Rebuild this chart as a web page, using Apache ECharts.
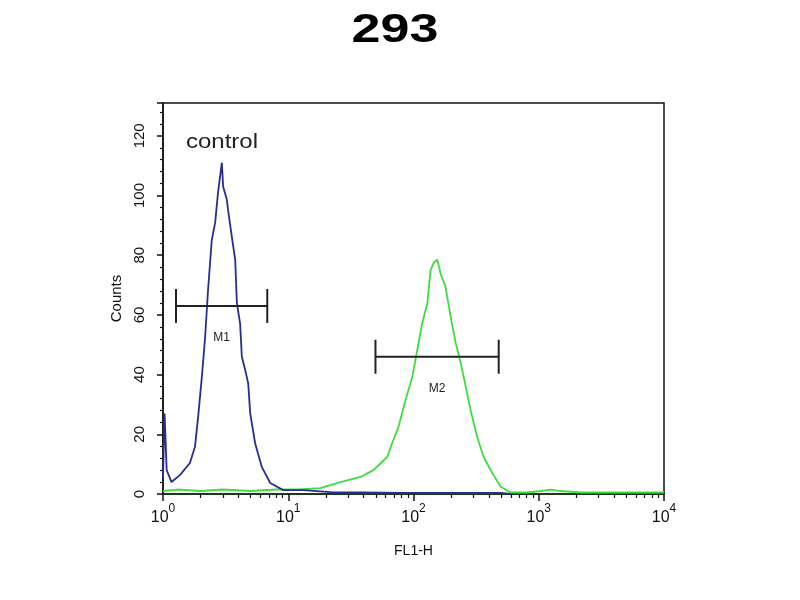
<!DOCTYPE html>
<html><head><meta charset="utf-8">
<script src="https://cdn.jsdelivr.net/npm/echarts@6/dist/echarts.min.js"></script>
<style>html,body{margin:0;padding:0;background:#fff}#c{width:800px;height:600px}</style>
</head><body><div id="c"></div>
<script>
// ---- data ----
const chartTitle = '293';
const xDecades = [1, 10, 100, 1000, 10000];
const yTicks = [0, 20, 40, 60, 80, 100, 120];

const controlX = [1.0, 1.03, 1.07, 1.17, 1.37, 1.64, 1.80, 1.91, 2.04, 2.17, 2.29, 2.45, 2.61, 2.75, 2.95, 3.02, 3.23, 3.31, 3.55, 3.77, 3.89, 4.13, 4.26, 4.53, 4.79, 4.97, 5.44, 6.16, 7.18, 9.12, 9.82, 13.2, 21.7, 40, 78.7, 200, 497, 597];
const controlY = [5, 27, 8, 4, 6.4, 10.4, 15.8, 26, 39, 52.7, 68.5, 85, 91, 101, 111, 103, 98.7, 95, 86, 78.5, 64, 57, 46, 41.6, 37, 27, 17, 9, 3.7, 1.3, 1.3, 1.3, 0.6, 0.5, 0.4, 0.4, 0.4, 0];

const sampleX = [1, 1.3, 2, 3, 5, 8, 12, 18, 26.1, 37.7, 47.9, 61.6, 67.5, 75.9, 86.3, 97.6, 107, 117, 129, 137, 145, 155, 164, 180, 198, 217, 238, 261, 286, 323, 363, 426, 497, 597, 800, 1037, 1250, 1500, 2168, 4000, 10000];
const sampleY = [1, 1.5, 1, 1.5, 1, 1.5, 1.5, 2, 4, 5.7, 8, 12.4, 17, 22.5, 31.5, 39, 48, 57, 64, 75, 77.5, 78.5, 74, 69.5, 59.4, 50.7, 44, 36, 28, 19, 12.4, 7, 2.4, 0.5, 0.5, 1, 1.5, 1, 0.5, 0.5, 0.5];

const markerNames = ['M1', 'M2'];
const markerFrom = [1.27, 49.7];
const markerTo = [6.8, 479];
const markerLevel = [63, 46];

// ---- build ----
const minorX = [];
for (let d = 1; d < 10000; d *= 10) for (let k = 2; k <= 9; k++) minorX.push(d * k);
const zip = (a, b) => a.map((v, i) => [v, b[i]]);
const FONT = '"Liberation Sans", Arial';

const chart = echarts.init(document.getElementById('c'));
chart.setOption({
  animation: false,
  backgroundColor: '#fff',
  graphic: [
    {type: 'text', x: 395, y: 31, scaleX: 1.3, style: {text: chartTitle, x: 0, y: 0, align: 'center', verticalAlign: 'middle', font: 'bold 40px ' + FONT, fill: '#000'}},
    {type: 'text', x: 222, y: 142, scaleX: 1.2, style: {text: 'control', x: 0, y: 0, align: 'center', verticalAlign: 'middle', font: '20px ' + FONT, fill: '#222'}}
  ],
  grid: {left: 163, right: 136, top: 103, bottom: 106, show: true, borderColor: '#111', borderWidth: 1.5, backgroundColor: 'transparent'},
  xAxis: [{
    type: 'log', logBase: 10, min: 1, max: 10000,
    name: 'FL1-H', nameLocation: 'middle', nameGap: 50,
    nameTextStyle: {fontSize: 14, color: '#111', fontFamily: FONT},
    axisLine: {show: true, lineStyle: {color: '#1a3a1a', width: 2}},
    axisTick: {show: true, inside: false, length: 7, lineStyle: {color: '#111', width: 1.5}},
    axisLabel: {
      margin: 9, color: '#111',
      formatter: v => '{b|10}{s|' + Math.round(Math.log10(v)) + '}',
      rich: {b: {fontSize: 16, fontFamily: FONT, padding: [7,0,0,0]}, s: {fontSize: 12, fontFamily: FONT, verticalAlign: 'top', padding: [0,0,8,0]}}
    },
    splitLine: {show: false}
  }, {
    type: 'log', logBase: 10, min: 1, max: 10000, position: 'bottom', gridIndex: 0,
    axisLine: {show: false},
    axisTick: {show: true, inside: false, length: 4, customValues: minorX, lineStyle: {color: '#111', width: 1.2}},
    axisLabel: {show: false},
    splitLine: {show: false}
  }],
  yAxis: {
    type: 'value', min: 0, max: 131, interval: 20,
    name: 'Counts', nameLocation: 'middle', nameGap: 39, nameRotate: 90,
    nameTextStyle: {fontSize: 15, color: '#111', fontFamily: FONT},
    axisLine: {show: true, lineStyle: {color: '#111', width: 1.5}},
    axisTick: {show: true, length: 6, lineStyle: {color: '#111', width: 1.5}},
    minorTick: {show: true, splitNumber: 5, length: 3, lineStyle: {color: '#111', width: 1.2}},
    axisLabel: {rotate: 90, margin: 16, fontSize: 15, color: '#111', fontFamily: FONT, showMaxLabel: false,
      formatter: v => yTicks.includes(v) ? String(v) : ''},
    splitLine: {show: false}
  },
  series: [
    {type: 'line', name: 'sample', data: zip(sampleX, sampleY), showSymbol: false, symbol: 'none', z: 2,
     lineStyle: {color: '#3fdc3f', width: 1.8}},
    {type: 'line', name: 'control', data: zip(controlX, controlY), showSymbol: false, symbol: 'none', z: 3,
     lineStyle: {color: '#2a2d8f', width: 1.8}},
    {type: 'custom', name: 'markers', z: 5,
     data: markerNames.map((n, i) => [markerFrom[i], markerTo[i], markerLevel[i], i]),
     renderItem: (params, api) => {
       const a = api.coord([api.value(0), api.value(2)]);
       const b = api.coord([api.value(1), api.value(2)]);
       const name = markerNames[api.value(3)];
       const style = {stroke: '#222', lineWidth: 2};
       return {type: 'group', children: [
         {type: 'line', shape: {x1: a[0], y1: a[1], x2: b[0], y2: b[1]}, style},
         {type: 'line', shape: {x1: a[0], y1: a[1]-17, x2: a[0], y2: a[1]+17}, style},
         {type: 'line', shape: {x1: b[0], y1: b[1]-17, x2: b[0], y2: b[1]+17}, style},
         {type: 'text', style: {text: name, x: (a[0]+b[0])/2, y: a[1]+32, align: 'center', verticalAlign: 'middle', font: '12px ' + FONT, fill: '#222'}}
       ]};
     }}
  ]
});
</script></body></html>
